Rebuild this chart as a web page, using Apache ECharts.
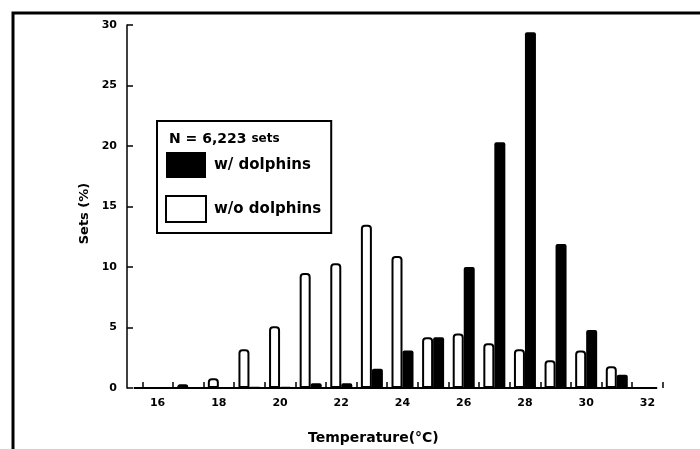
<!DOCTYPE html>
<html>
<head>
<meta charset="utf-8">
<script src="https://cdn.jsdelivr.net/npm/echarts@6/dist/echarts.min.js"></script>
<style>html,body{margin:0;padding:0;background:#fff;}#c{width:700px;height:449px;}</style>
</head>
<body>
<div id="c"></div>
<script>
const temperatures = [16, 17, 18, 19, 20, 21, 22, 23, 24, 25, 26, 27, 28, 29, 30, 31];
const withoutDolphins = [0, 0.3, 0.8, 3.2, 5.1, 9.5, 10.3, 13.5, 10.9, 4.2, 4.5, 3.7, 3.2, 2.3, 3.1, 1.8];
const withDolphins = [0, 0, 0, 0.1, 0.1, 0.4, 0.4, 1.6, 3.1, 4.2, 10.0, 20.3, 29.4, 11.9, 4.8, 1.1];
const yTicks = [0, 5, 10, 15, 20, 25, 30];
const xLabels = [16, 18, 20, 22, 24, 26, 28, 30, 32];

const FONT = 'DejaVu Sans';
const chart = echarts.init(document.getElementById('c'), null, {renderer: 'canvas'});

chart.setOption({
  animation: false,
  backgroundColor: '#fff',
  grid: {left: 127, top: 25, width: 551, bottom: 61, containLabel: false},
  title: [
    {
      left: 164, top: 125,
      text: '{a|N = 6,223} {b|sets}',
      textStyle: {
        rich: {
          a: {fontFamily: FONT, fontWeight: 'bold', fontSize: 14, color: '#000'},
          b: {fontFamily: FONT, fontWeight: 'bold', fontSize: 12, color: '#000'}
        }
      }
    },
    {
      left: 303, top: 426,
      text: 'Temperature(°C)',
      textStyle: {fontFamily: FONT, fontWeight: 'bold', fontSize: 14, color: '#000'}
    }
  ],
  legend: {
    orient: 'vertical',
    left: 157, top: 121,
    borderColor: '#000', borderWidth: 2,
    padding: [31, 10, 10, 8],
    itemWidth: 40, itemHeight: 26, itemGap: 17,
    icon: 'rect',
    textStyle: {fontFamily: FONT, fontWeight: 'bold', fontSize: 15, color: '#000', padding: [0, 0, 0, 3]},
    data: [
      {name: 'w/ dolphins', itemStyle: {color: '#000'}},
      {name: 'w/o dolphins', itemStyle: {color: '#fff', borderColor: '#000', borderWidth: 2}}
    ]
  },
  xAxis: {
    type: 'value',
    min: 15, max: 33, interval: 1,
    axisLine: {show: false},
    axisTick: {show: false, inside: true},
    minorTick: {show: true, splitNumber: 2, length: 6, lineStyle: {color: '#000', width: 1.5}},
    splitLine: {show: false},
    minorSplitLine: {show: false},
    axisLabel: {
      margin: 10,
      fontFamily: FONT, fontWeight: 'bold', fontSize: 11, color: '#000',
      formatter: v => xLabels.indexOf(v) >= 0 ? String(v) : ''
    }
  },
  yAxis: {
    type: 'value',
    min: 0, max: 30, interval: 5,
    name: 'Sets (%)',
    nameLocation: 'middle', nameGap: 34,
    nameTextStyle: {fontFamily: FONT, fontWeight: 'bold', fontSize: 13, color: '#000', padding: [0, 14, 0, 0]},
    axisLine: {show: true, lineStyle: {color: '#000', width: 1.5}},
    axisTick: {show: true, inside: true, length: 6, lineStyle: {color: '#000', width: 1.5}},
    splitLine: {show: false},
    axisLabel: {
      margin: 10,
      fontFamily: FONT, fontWeight: 'bold', fontSize: 11, color: '#000',
      formatter: v => yTicks.indexOf(v) >= 0 ? String(v) : ''
    }
  },
  series: [
    {
      name: 'w/o dolphins',
      type: 'bar',
      barWidth: 11,
      barGap: '0%',
      itemStyle: {color: '#fff', borderColor: '#000', borderWidth: 2, borderRadius: [3, 3, 0, 0]},
      data: temperatures.map((t, i) => [t, withoutDolphins[i]]),
      markLine: {
        silent: true,
        symbol: ['none', 'none'],
        label: {show: false},
        lineStyle: {color: '#000', width: 2, type: 'solid'},
        data: [[{coord: [15.4, 0]}, {coord: [32.5, 0]}]]
      }
    },
    {
      name: 'w/ dolphins',
      type: 'bar',
      barWidth: 11,
      barGap: '0%',
      itemStyle: {color: '#000', borderRadius: [2, 2, 0, 0]},
      data: temperatures.map((t, i) => [t, withDolphins[i]])
    }
  ],
  graphic: [
    {
      type: 'polyline',
      shape: {points: [[13, 449], [13, 13], [700, 13]]},
      style: {stroke: '#000', lineWidth: 3, fill: null},
      silent: true
    }
  ]
});
</script>
</body>
</html>
